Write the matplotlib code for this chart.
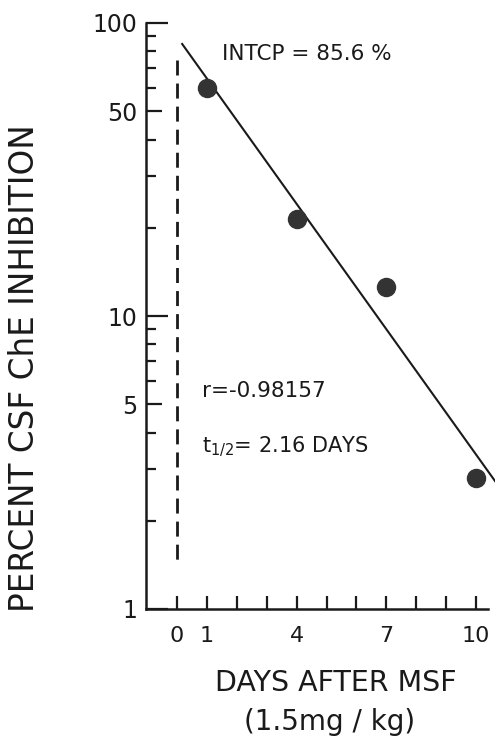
import matplotlib
matplotlib.use("Agg")
import matplotlib.pyplot as plt
from matplotlib.ticker import FixedLocator, NullFormatter

# data
days = [1, 4, 7, 10]
inhibition = [60.0, 21.4, 12.6, 2.8]

# regression line end points (INTCP = 85.6 %, t1/2 = 2.16 days)
fit_days = [0.17, 10.65]
fit_pct = [84.8, 2.72]

# dashed line at the time of dosing
dose_day = [0, 0]
dose_pct = [74.8, 1.41]

x_ticks = list(range(0, 11))
x_labels = {0: "0", 1: "1", 4: "4", 7: "7", 10: "10"}
y_major = [1, 5, 10, 50, 100]
y_minor = [2, 3, 4, 6, 7, 8, 9, 20, 30, 40, 60, 70, 80, 90]

W, H = 495, 739
fig = plt.figure(figsize=(W / 100, H / 100), dpi=100)
ax = fig.add_axes([146 / W, 1 - 609 / H, (488 - 146) / W, (609 - 23) / H])


def px(x, y):
    return x / W, 1 - y / H


ink = "#1a1a1a"

ax.plot(days, inhibition, "o", color="#333333", ms=13, zorder=3, clip_on=False)
ax.plot(fit_days, fit_pct, "-", color=ink, lw=1.5, clip_on=False)
ax.plot(dose_day, dose_pct, color=ink, lw=2, dashes=(5.4, 2.9))

ax.set_yscale("log")
ax.set_ylim(1, 100)
ax.set_xlim(-1.04, 10.4)

for s in ["top", "right"]:
    ax.spines[s].set_visible(False)
for s in ["left", "bottom"]:
    ax.spines[s].set_linewidth(1.8)
    ax.spines[s].set_color(ink)

ax.xaxis.set_major_locator(FixedLocator(x_ticks))
ax.set_xticklabels([x_labels.get(t, "") for t in x_ticks])
ax.xaxis.set_minor_locator(FixedLocator([]))
ax.tick_params(axis="x", direction="in", length=9.4, width=1.6, color=ink,
               pad=12, labelsize=16, labelcolor=ink)

ax.yaxis.set_major_locator(FixedLocator(y_major))
ax.set_yticklabels([str(v) for v in y_major])
ax.yaxis.set_minor_locator(FixedLocator(y_minor))
ax.yaxis.set_minor_formatter(NullFormatter())
ax.tick_params(axis="y", which="major", direction="in", length=11.5, width=1.6,
               color=ink, pad=6, labelsize=17, labelcolor=ink)
ax.tick_params(axis="y", which="minor", direction="in", length=7, width=1.6,
               color=ink)
# decade ticks are a bit longer than the 5 / 50 ones
for v, t in zip(y_major, ax.yaxis.get_major_ticks(len(y_major))):
    if v in (1, 10, 100):
        t.tick1line.set_markersize(16)

fig.text(*px(25, 368), "PERCENT CSF ChE INHIBITION", rotation=90,
         ha="center", va="center", fontsize=23.5, color=ink)
fig.text(*px(336, 683), "DAYS AFTER MSF", ha="center", va="center",
         fontsize=20.5, color=ink)
fig.text(*px(330, 722), "(1.5mg / kg)", ha="center", va="center",
         fontsize=20, color=ink)

fig.text(*px(222, 60), "INTCP = 85.6 %", ha="left", va="baseline",
         fontsize=15.5, color=ink)
fig.text(*px(202, 397), "r=-0.98157", ha="left", va="baseline",
         fontsize=15.5, color=ink)
fig.text(*px(202, 452), r"t$_{1/2}$= 2.16 DAYS", ha="left", va="baseline",
         fontsize=15, color=ink)

fig.savefig("out.png", dpi=100)
